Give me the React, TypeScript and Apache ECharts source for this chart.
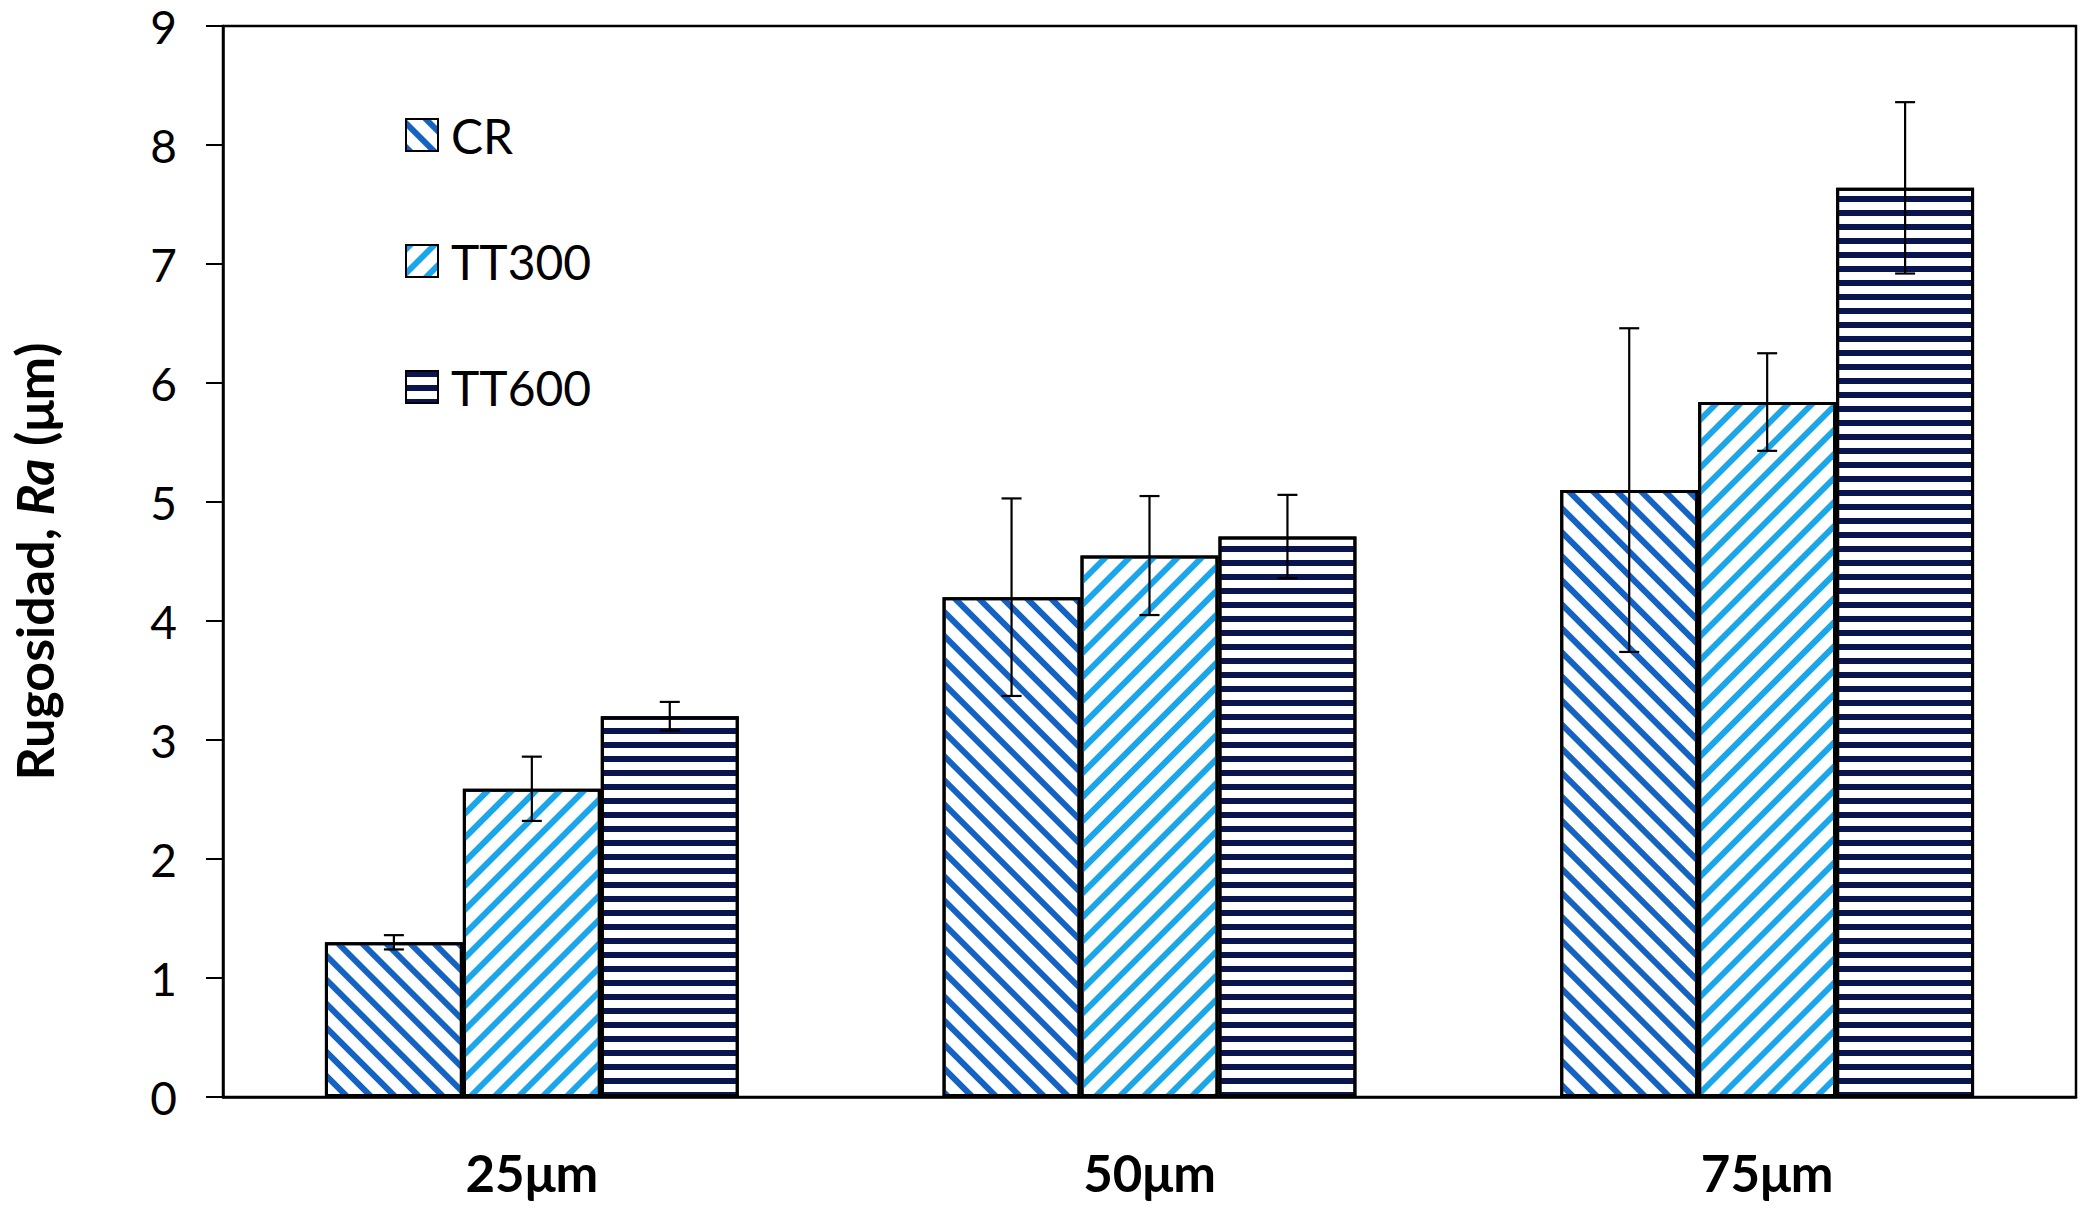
import React, { useEffect, useRef } from "react";
import * as echarts from "echarts";

const categories = ["25μm", "50μm", "75μm"];
const seriesNames = ["CR", "TT300", "TT600"];

const crValues = [1.3, 4.2, 5.1];
const crErrors = [0.06, 0.83, 1.36];
const tt300Values = [2.59, 4.55, 5.84];
const tt300Errors = [0.27, 0.5, 0.41];
const tt600Values = [3.2, 4.71, 7.64];
const tt600Errors = [0.12, 0.35, 0.72];

const yTicks = [0, 1, 2, 3, 4, 5, 6, 7, 8, 9];

const FONT = "Lato, 'Open Sans', sans-serif";
const CAT_GAP = 0.33;

const App: React.FC = () => {
  const chartRef = useRef<HTMLDivElement>(null);

  useEffect(() => {
    if (!chartRef.current) return;
    document.body.style.margin = "0";
    const chart = echarts.init(chartRef.current, undefined, { renderer: "svg" });

    const values = [crValues, tt300Values, tt600Values];
    const errors = [crErrors, tt300Errors, tt600Errors];

    // stripe patterns, one per series
    const decals: any[] = [
      { symbol: "rect", color: "#1463c2", dashArrayX: [1, 0], dashArrayY: [6, 11], rotation: Math.PI / 4 },
      { symbol: "rect", color: "#1ba6ea", dashArrayX: [1, 0], dashArrayY: [6, 11], rotation: -Math.PI / 4 },
      { symbol: "rect", color: "#0a1550", dashArrayX: [1, 0], dashArrayY: [6, 8], rotation: 0 },
    ];

    const errData: number[][] = [];
    values.forEach((vals, s) =>
      vals.forEach((v, c) => errData.push([c, v, errors[s][c], s])),
    );

    const option: echarts.EChartsOption = {
      animation: false,
      backgroundColor: "#ffffff",
      textStyle: { fontFamily: FONT },
      grid: {
        left: 223,
        right: 7,
        top: 26,
        bottom: 113,
        show: true,
        borderColor: "#000",
        borderWidth: 2.5,
        containLabel: false,
      },
      legend: {
        data: seriesNames.map((n) => ({ name: n, icon: "rect" })),
        orient: "vertical",
        left: 405,
        top: 111,
        padding: 0,
        itemWidth: 32,
        itemHeight: 32,
        itemGap: 78,
        textStyle: { fontSize: 48, color: "#000", fontFamily: FONT, padding: [0, 0, 0, 8] },
      },
      xAxis: {
        type: "category",
        data: categories,
        axisTick: { show: false },
        axisLine: { lineStyle: { color: "#000", width: 2.5 } },
        axisLabel: { color: "#000", fontSize: 51, fontWeight: "bold", margin: 50, fontFamily: FONT },
        splitLine: { show: false },
      },
      yAxis: {
        type: "value",
        min: yTicks[0],
        max: yTicks[yTicks.length - 1],
        interval: 1,
        name: "{b|Rugosidad, }{i|Ra}{b| (μm)}",
        nameLocation: "middle",
        nameGap: 163,
        nameTextStyle: {
          rich: {
            b: { fontSize: 52, fontWeight: "bold", color: "#000", fontFamily: FONT },
            i: { fontSize: 52, fontWeight: "bold", fontStyle: "italic", color: "#000", fontFamily: FONT },
          },
        },
        axisLine: { show: true, lineStyle: { color: "#000", width: 2.5 } },
        axisTick: { show: true, inside: false, length: 17, lineStyle: { color: "#000", width: 2 } },
        axisLabel: { color: "#000", fontSize: 46, margin: 46, fontFamily: FONT },
        splitLine: { show: false },
      },
      series: [
        ...seriesNames.map((name, s) => ({
          name,
          type: "bar" as const,
          data: values[s],
          barGap: "0%",
          barCategoryGap: `${CAT_GAP * 100}%`,
          itemStyle: {
            color: "#ffffff",
            borderColor: "#000",
            borderWidth: 3,
            decal: decals[s],
          },
        })),
        {
          name: "err",
          type: "custom" as const,
          z: 5,
          data: errData,
          encode: { x: 0, y: 1 },
          renderItem: (params: any, api: any) => {
            const c = api.value(0);
            const v = api.value(1);
            const e = api.value(2);
            const s = api.value(3);
            const band = api.size([1, 0])[0];
            const bw = (band * (1 - CAT_GAP)) / 3;
            const x = api.coord([c, v])[0] + (s - 1) * bw;
            const yTop = api.coord([c, v + e])[1];
            const yBot = api.coord([c, v - e])[1];
            const cap = 10;
            const st = { stroke: "#000", lineWidth: 2.2 };
            return {
              type: "group",
              children: [
                { type: "line", shape: { x1: x, y1: yTop, x2: x, y2: yBot }, style: st },
                { type: "line", shape: { x1: x - cap, y1: yTop, x2: x + cap, y2: yTop }, style: st },
                { type: "line", shape: { x1: x - cap, y1: yBot, x2: x + cap, y2: yBot }, style: st },
              ],
            };
          },
        } as any,
      ],
    };

    chart.setOption(option);
    const handleResize = () => chart.resize();
    window.addEventListener("resize", handleResize);
    return () => {
      window.removeEventListener("resize", handleResize);
      chart.dispose();
    };
  }, []);

  return (
    <div
      ref={chartRef}
      style={{ position: "fixed", left: 0, top: 0, width: 2083, height: 1210, background: "#fff" }}
    />
  );
};

export default App;
